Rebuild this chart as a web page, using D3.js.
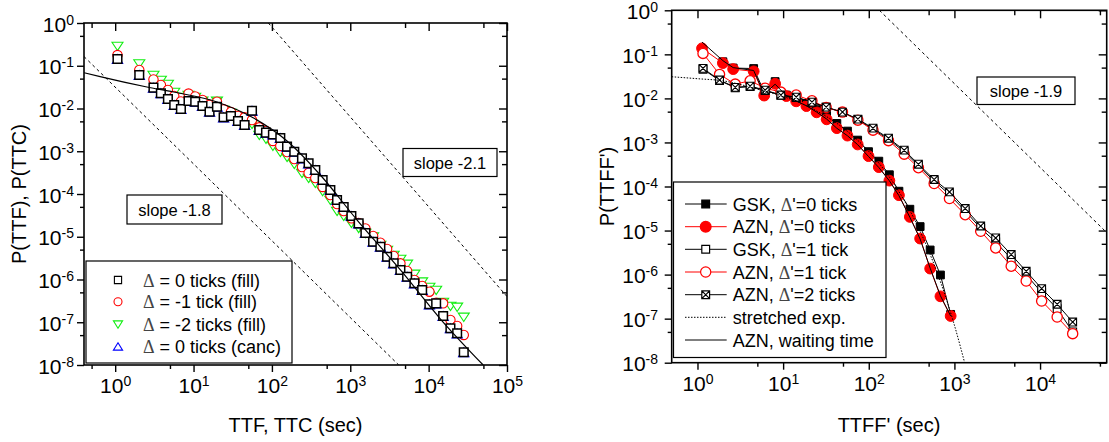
<!DOCTYPE html>
<html><head><meta charset="utf-8">
<script src="https://cdn.jsdelivr.net/npm/d3@7"></script>
<style>body{margin:0;background:#fff}svg{display:block}text{font-family:"Liberation Sans",Arial,sans-serif;fill:#000}</style>
</head><body><svg id="c" width="1109" height="442"></svg>
<script>
// ---------- LEFT PANEL DATA ----------
const leftX = [1.07,2.03,3.08,3.83,4.71,5.67,6.90,8.63,10.5,13.0,16.0,19.9,24.2,30.0,36.9,44.8,55.7,69.0,84.1,103,128,156,193,242,294,358,444,557,678,824,1033,1280,1560,1955,2422,2951,3581,4363,5312,6586,8265,10230,12470,15310,18970,23120,28070];
const fill0 = [0.144,0.0608,0.0307,0.0227,0.0167,0.0121,0.00973,0.0150,0.0144,0.0114,0.00841,0.0110,0.00622,0.00668,0.00511,0.00411,0.00889,0.00314,0.00272,0.00247,0.00204,0.00128,9.75e-4,6.84e-4,5.22e-4,3.64e-4,2.12e-4,1.24e-4,7.24e-5,4.97e-5,3.06e-5,2.06e-5,1.22e-5,7.66e-6,5.85e-6,3.41e-6,2.39e-6,1.67e-6,1.16e-6,8.15e-7,5.68e-7,2.63e-7,2.77e-7,1.40e-7,7.21e-8,5.51e-8,1.98e-8];
const fillM1 = [0.178,0.0796,0.0477,0.0355,0.0271,0.0196,0.0146,0.0224,0.0191,0.0158,0.0121,0.0144,0.00958,0.00828,0.00668,0.00622,0.00538,0.00363,0.00298,0.00174,0.00133,9.6e-4,6.59e-4,4.28e-4,3.10e-4,2.37e-4,1.46e-4,9.48e-5,5.83e-5,4.0e-5,2.70e-5,2.10e-5,1.56e-5,1.04e-5,7.26e-6,5.17e-6,3.55e-6,2.39e-6,1.58e-6,9.73e-7,7.05e-7,5.19e-7,2.86e-7,2.77e-7,1.13e-7,8.17e-8,5.04e-8];
const fillM2 = [0.290,0.113,0.0608,0.0464,0.0374,0.0243,0.0186,0.0207,0.0186,0.0150,0.0114,0.0150,0.00923,0.00785,0.0060,0.00511,0.00434,0.0024,0.00194,0.00133,9.6e-4,7.33e-4,5.03e-4,3.10e-4,2.37e-4,1.81e-4,1.17e-4,7.24e-5,4.0e-5,3.06e-5,2.10e-5,1.60e-5,1.22e-5,1.01e-5,6.41e-6,4.90e-6,3.74e-6,3.02e-6,2.31e-6,1.35e-6,8.89e-7,6.68e-7,5.68e-7,2.98e-7,2.40e-7,2.28e-7,1.33e-7];
const canc0 = [0.145,0.0610,0.0308,0.0228,0.0168,0.0122,0.00975,0.0151,0.0145,0.0115,0.00845,0.0111,0.00625,0.00670,0.00513,0.00413,0.00892,0.00315,0.00273,0.00248,0.00205,0.00129,9.8e-4,6.86e-4,5.24e-4,3.66e-4,2.13e-4,1.25e-4,7.26e-5,4.99e-5,3.07e-5,2.07e-5,1.23e-5,7.70e-6,5.88e-6,3.43e-6,2.40e-6,1.68e-6,1.17e-6,8.18e-7,5.70e-7,2.64e-7,2.78e-7,1.41e-7,7.25e-8,5.53e-8,1.99e-8];
const fitX = [0.402,0.643,2.54,5.55,19.9,58.4,156,415,1222,4363,14150,49660];
const fitY = [0.0687,0.0555,0.0318,0.0243,0.0142,0.0060,0.00174,2.78e-4,2.46e-5,1.67e-6,1.19e-7,1e-8];
const slope18X = [0.4,4150], slope18Y = [0.164,1e-8];
const slope21X = [90,1e5], slope21Y = [1,4.0e-7];
const leftLegend = [" = 0 ticks (fill)"," = -1 tick (fill)"," = -2 ticks (fill)"," = 0 ticks (canc)"];

// ---------- RIGHT PANEL DATA ----------
const d0X = [1.13,1.98,2.61,4.53,6.01,8.07,10.9,14.2,18.7,24.6,32.2,42.4,56.4,74.2,99.3,131,174,225,302,398,521,687,904];
const azn0 = [0.137,0.0634,0.0463,0.0411,0.0116,0.0215,0.0113,0.00859,0.00668,0.00483,0.00335,0.00211,0.00143,9.0e-4,4.89e-4,2.75e-4,1.36e-4,6.34e-5,2.04e-5,6.58e-6,1.37e-6,3.21e-7,1.15e-7];
const waitT = [0.19,0.072,0.05,0.043,0.0125,0.021,0.0115,0.0088,0.0068,0.0049,0.0034,0.0021,0.00142,8.9e-4,4.8e-4,2.7e-4,1.35e-4,6.2e-5,2.0e-5,6.4e-6,1.4e-6,3.3e-7,1.15e-7];
const gsk0X = [1.98,2.61,4.53,6.01,8.07,10.9,14.2,18.7,24.6,32.2,42.4,56.4,74.2,99.3,131,174,225,302,398,521,687,904];
const gsk0 = [0.0679,0.0489,0.0476,0.0141,0.0241,0.0119,0.00989,0.00769,0.00556,0.00407,0.00270,0.00181,0.00113,6.18e-4,3.76e-4,1.85e-4,7.82e-5,3.05e-5,1.23e-5,3.62e-6,9.8e-7,1.25e-7];
const d1X = [1.16,1.81,2.76,4.12,6.17,9.41,14.2,21.7,31.8,49.3,74.6,112,170,259,380,580,875,1336,2027,3033,4603,6887,10440,15840,24040];
const azn1 = [0.105,0.0351,0.0211,0.0251,0.0171,0.0139,0.0119,0.00882,0.00624,0.00489,0.00321,0.00190,0.00110,5.42e-4,2.67e-4,1.17e-4,5.34e-5,2.29e-5,9.63e-6,4.03e-6,1.55e-6,7.16e-7,2.51e-7,1.09e-7,4.56e-8];
const gsk1 = [0.046,0.0255,0.0175,0.0185,0.0150,0.0118,0.0105,0.0082,0.0063,0.0048,0.0033,0.0020,0.00118,6.2e-4,2.95e-4,1.33e-4,6.6e-5,2.8e-5,1.12e-5,5.5e-6,2.3e-6,1.0e-6,3.9e-7,1.69e-7,5.0e-8];
const azn2 = [0.0481,0.0261,0.0178,0.0190,0.0154,0.0119,0.0107,0.00824,0.00634,0.00489,0.00339,0.00211,0.00125,6.68e-4,3.21e-4,1.44e-4,7.54e-5,3.16e-5,1.27e-5,6.79e-6,2.85e-6,1.19e-6,4.81e-7,2.12e-7,8.37e-8];
const stretchX = [0.5,1,2,5,10,20,50,100,200,400,700,1000,1400];
const stretchY = [0.031,0.028,0.025,0.0163,0.0111,0.00638,0.00214,6.26e-4,1.10e-4,9.4e-6,6.2e-7,7.1e-8,6.3e-9];
const slope19X = [133,6e4], slope19Y = [1,9.0e-6];
const rightLegend = [["GSK, ","'=0 ticks"],["AZN, ","'=0 ticks"],["GSK, ","'=1 tick"],["AZN, ","'=1 tick"],["AZN, ","'=2 ticks"],["stretched exp.",null],["AZN, waiting time",null]];

// ---------- TICKS ----------
const yMajor = [1e-8,1e-7,1e-6,1e-5,1e-4,1e-3,1e-2,1e-1,1];
const yMinor = [5e-8,5e-7,5e-6,5e-5,5e-4,5e-3,5e-2,0.5];
const lxMajor = [1,10,100,1e3,1e4,1e5], lxMinor = [0.5,5,50,500,5e3,5e4];
const rxMajor = [1,10,100,1e3,1e4], rxMinor = [5,50,500,5e3,5e4];

const svg = d3.select("#c");
const xL = d3.scaleLog().domain([0.4,1e5]).range([84,507]);
const yL = d3.scaleLog().domain([1e-8,1]).range([365,23]);
const xR = d3.scaleLog().domain([0.5,6e4]).range([671.7,1106.7]);
const yR = d3.scaleLog().domain([1e-8,1]).range([362.7,10.3]);

function expLabel(sel){
  sel.each(function(d){
    const t=d3.select(this); t.text(null);
    t.append("tspan").text("10");
    t.append("tspan").attr("dy",-7).attr("font-size",14).text(String(Math.round(Math.log10(d))));
  });
}
function clean(g){ g.select(".domain").remove(); g.attr("font-family",null).attr("font-size",null); g.selectAll("line").attr("stroke","#000").attr("stroke-width",1.4); }

function axes(g,x,y,xMaj,xMin,yMaj,yMin,ylabEnd){
  const [xa,xb]=x.range(), [yb,ya]=y.range();
  const b=g.append("g").attr("transform",`translate(0,${yb})`).call(d3.axisBottom(x).tickValues(xMaj).tickSize(7).tickFormat(()=>"")).call(clean);
  b.selectAll(".tick text").attr("y",28).attr("dy",null).attr("font-size",21).attr("fill","#000").call(expLabel);
  g.append("g").attr("transform",`translate(0,${yb})`).call(d3.axisBottom(x).tickValues(xMin).tickSize(4).tickFormat(()=>"")).call(clean).selectAll("text").remove();
  g.append("g").attr("transform",`translate(0,${ya})`).call(d3.axisTop(x).tickValues(xMaj).tickSize(-8).tickFormat(()=>"")).call(clean).selectAll("text").remove();
  g.append("g").attr("transform",`translate(0,${ya})`).call(d3.axisTop(x).tickValues(xMin).tickSize(-5).tickFormat(()=>"")).call(clean).selectAll("text").remove();
  const l=g.append("g").attr("transform",`translate(${xa},0)`).call(d3.axisLeft(y).tickValues(yMaj).tickSize(7).tickFormat(()=>"")).call(clean);
  l.selectAll(".tick text").attr("x",ylabEnd-xa).attr("y",8).attr("dy",null).attr("font-size",21).attr("text-anchor","end").attr("fill","#000").call(expLabel);
  g.append("g").attr("transform",`translate(${xa},0)`).call(d3.axisLeft(y).tickValues(yMin).tickSize(4).tickFormat(()=>"")).call(clean).selectAll("text").remove();
  g.append("g").attr("transform",`translate(${xb},0)`).call(d3.axisRight(y).tickValues(yMaj).tickSize(-8).tickFormat(()=>"")).call(clean).selectAll("text").remove();
  g.append("g").attr("transform",`translate(${xb},0)`).call(d3.axisRight(y).tickValues(yMin).tickSize(-5).tickFormat(()=>"")).call(clean).selectAll("text").remove();
}

function clip(id,x,y){
  const [xa,xb]=x.range(), [yb,ya]=y.range();
  svg.append("clipPath").attr("id",id).append("rect").attr("x",xa).attr("y",ya).attr("width",xb-xa).attr("height",yb-ya);
}
function zip(xs,ys){ return xs.map((v,i)=>[v,ys[i]]); }

const sq = s=>`M${-s},${-s}h${2*s}v${2*s}h${-2*s}Z`;
const xsq = s=>sq(s)+`M${-s},${-s}L${s},${s}M${s},${-s}L${-s},${s}`;
const tri = (w,top,bot)=>`M0,${top}L${w},${bot}L${-w},${bot}Z`;
const circ = r=>d3.symbol(d3.symbolCircle, Math.PI*r*r)();

function markers(g,x,y,pts,path,stroke,fill,sw){
  g.append("g").selectAll("path").data(pts).join("path")
    .attr("transform",d=>`translate(${x(d[0])},${y(d[1])})`)
    .attr("d",path).attr("stroke",stroke).attr("fill",fill).attr("stroke-width",sw);
}
function line(g,x,y,pts,stroke,sw,dash,clipId,curve){
  const gen=d3.line().x(d=>x(d[0])).y(d=>y(d[1]));
  if(curve) gen.curve(curve);
  g.append("path").attr("d",gen(pts)).attr("fill","none").attr("stroke",stroke).attr("stroke-width",sw)
    .attr("stroke-dasharray",dash||null).attr("clip-path",clipId?`url(#${clipId})`:null);
}
function deltaText(g,x,y,pre,post,size){
  const t=g.append("text").attr("x",x).attr("y",y).attr("font-size",size);
  if(pre) t.append("tspan").text(pre);
  t.append("tspan").attr("font-family","Liberation Serif, serif").attr("fill","#444").text("Δ");
  t.append("tspan").text(post);
}

// ================= LEFT PANEL =================
clip("cl",xL,yL);
const gL=svg.append("g");
line(gL,xL,yL,zip(slope18X,slope18Y),"#000",1,"3,3","cl");
line(gL,xL,yL,zip(slope21X,slope21Y),"#000",1,"3,3","cl");
markers(gL,xL,yL,zip(leftX,fillM2),tri(5.5,4.6,-3.8),"#11ee11","#fff",1.1);
markers(gL,xL,yL,zip(leftX,fillM1),circ(4.7),"#ff0000","#fff",1.1);
markers(gL,xL,yL,zip(leftX,canc0),tri(5.2,-4.3,4.6),"#0000ff","#fff",1.1);
markers(gL,xL,yL,zip(leftX,fill0),sq(4.3),"#000","#fff",1.5);
line(gL,xL,yL,zip(fitX,fitY),"#000",1.2,null,"cl",d3.curveMonotoneX);
// slope boxes
gL.append("rect").attr("x",127).attr("y",195).attr("width",95).attr("height",29).attr("fill","#fff").attr("stroke","#000").attr("stroke-width",1.2);
gL.append("text").attr("x",174.5).attr("y",215.5).attr("text-anchor","middle").attr("font-size",16.5).text("slope -1.8");
gL.append("rect").attr("x",403).attr("y",148.5).attr("width",94).attr("height",28).attr("fill","#fff").attr("stroke","#000").attr("stroke-width",1.2);
gL.append("text").attr("x",450).attr("y",168.5).attr("text-anchor","middle").attr("font-size",16.5).text("slope -2.1");
// legend
gL.append("rect").attr("x",86).attr("y",261).attr("width",206).attr("height",102).attr("fill","#fff").attr("stroke","#000").attr("stroke-width",1.2);
const lRows=[280,301.7,324.3,346.7];
const lSym=[[sq(3.6),"#000"],[circ(4),"#ff0000"],[tri(4.6,4,-3.4),"#11ee11"],[tri(4.6,-4,3.4),"#0000ff"]];
lRows.forEach((ry,i)=>{
  gL.append("path").attr("transform",`translate(118,${ry})`).attr("d",lSym[i][0]).attr("stroke",lSym[i][1]).attr("fill","none").attr("stroke-width",1.1);
  deltaText(gL,143,ry+6.5,null,leftLegend[i],18);
});
axes(gL,xL,yL,lxMajor,lxMinor,yMajor,yMinor,74);
gL.append("rect").attr("x",84).attr("y",23).attr("width",423).attr("height",342).attr("fill","none").attr("stroke","#000").attr("stroke-width",1.6);
gL.append("text").attr("x",295.5).attr("y",432).attr("text-anchor","middle").attr("font-size",20).text("TTF, TTC (sec)");
gL.append("text").attr("transform","translate(25.5,194) rotate(-90)").attr("text-anchor","middle").attr("font-size",20).text("P(TTF), P(TTC)");

// ================= RIGHT PANEL =================
clip("cr",xR,yR);
const gR=svg.append("g");
line(gR,xR,yR,zip(slope19X,slope19Y),"#000",1,"3,3","cr");
line(gR,xR,yR,zip(gsk0X,gsk0),"#000",1,null,"cr");
markers(gR,xR,yR,zip(gsk0X,gsk0),sq(3.9),"#000","#000",1);
line(gR,xR,yR,zip(d0X,azn0),"#ff0000",1,null,"cr");
markers(gR,xR,yR,zip(d0X,azn0),circ(5.4),"#ff0000","#ff0000",1);
line(gR,xR,yR,zip(d1X,gsk1),"#000",1,null,"cr");
markers(gR,xR,yR,zip(d1X,gsk1),sq(3.9),"#000","#fff",1.1);
line(gR,xR,yR,zip(d1X,azn1),"#ff0000",1,null,"cr");
markers(gR,xR,yR,zip(d1X,azn1),circ(5.1),"#ff0000","#fff",1.3);
line(gR,xR,yR,zip(d1X,azn2),"#000",1,null,"cr");
markers(gR,xR,yR,zip(d1X,azn2),xsq(3.9),"#000","#fff",1.1);
line(gR,xR,yR,zip(stretchX,stretchY),"#000",1,"1.5,1.5","cr",d3.curveMonotoneX);
line(gR,xR,yR,zip(d0X,waitT),"#000",1,null,"cr");
// slope box
gR.append("rect").attr("x",977).attr("y",77).attr("width",98).attr("height",27.5).attr("fill","#fff").attr("stroke","#000").attr("stroke-width",1.2);
gR.append("text").attr("x",1026).attr("y",96.5).attr("text-anchor","middle").attr("font-size",16.5).text("slope -1.9");
// legend
gR.append("rect").attr("x",673.5).attr("y",182).attr("width",212.5).attr("height",175.5).attr("fill","#fff").attr("stroke","#000").attr("stroke-width",1.2);
const rRows=[204,226.7,249.3,272,294.7,317.3,340];
const rSty=[
  {c:"#000",m:sq(3.9),f:"#000",d:null},
  {c:"#ff0000",m:circ(5.4),f:"#ff0000",d:null},
  {c:"#000",m:sq(3.9),f:"#fff",d:null},
  {c:"#ff0000",m:circ(5.1),f:"#fff",d:null},
  {c:"#000",m:xsq(3.9),f:"#fff",d:null},
  {c:"#000",m:null,f:null,d:"1.5,1.5"},
  {c:"#000",m:null,f:null,d:null}];
rRows.forEach((ry,i)=>{
  const s=rSty[i];
  gR.append("line").attr("x1",685).attr("x2",726.7).attr("y1",ry).attr("y2",ry).attr("stroke",s.c).attr("stroke-width",1).attr("stroke-dasharray",s.d);
  if(s.m) gR.append("path").attr("transform",`translate(705.7,${ry})`).attr("d",s.m).attr("stroke",s.c).attr("fill",s.f).attr("stroke-width",1.2);
  const lab=rightLegend[i];
  if(lab[1]!==null) deltaText(gR,732.7,ry+6.5,lab[0],lab[1],18);
  else gR.append("text").attr("x",732.7).attr("y",ry+6.5).attr("font-size",18).text(lab[0]);
});
axes(gR,xR,yR,rxMajor,rxMinor,yMajor,yMinor,658);
gR.append("rect").attr("x",671.7).attr("y",10.3).attr("width",435).attr("height",352.4).attr("fill","none").attr("stroke","#000").attr("stroke-width",1.6);
gR.append("text").attr("x",889).attr("y",432).attr("text-anchor","middle").attr("font-size",20).text("TTFF' (sec)");
gR.append("text").attr("transform","translate(613.5,186.5) rotate(-90)").attr("text-anchor","middle").attr("font-size",20).text("P(TTFF')");
</script></body></html>
